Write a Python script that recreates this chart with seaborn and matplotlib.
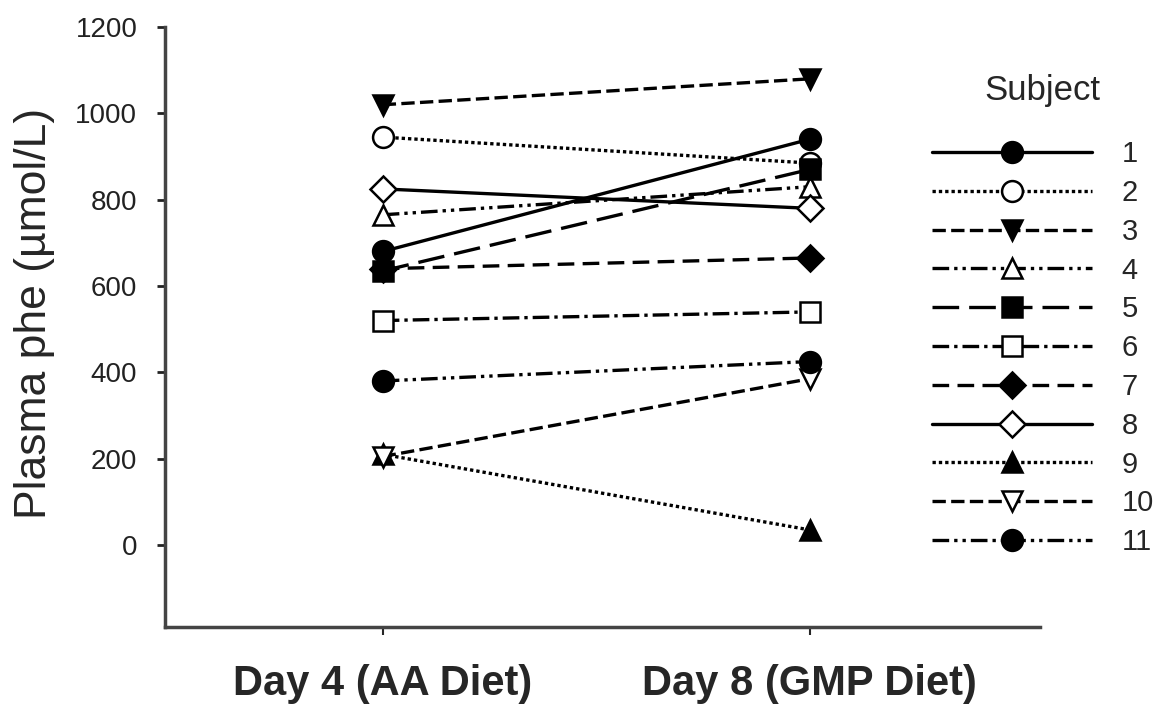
import matplotlib
matplotlib.use('Agg')
import matplotlib.pyplot as plt
import numpy as np
import pandas as pd
import seaborn as sns

days = ['Day 4 (AA Diet)', 'Day 8 (GMP Diet)']
subjects = ['1', '2', '3', '4', '5', '6', '7', '8', '9', '10', '11']
day4_phe = [680, 945, 1020, 765, 635, 520, 640, 825, 210, 205, 380]
day8_phe = [940, 885, 1080, 830, 870, 540, 665, 780, 35, 385, 425]

# marker, filled?, dash pattern
styles = {
    '1': ('o', True, '-'),
    '2': ('o', False, (0, (1, 0.9))),
    '3': ('v', True, (0, (4, 1.6))),
    '4': ('^', False, (0, (5, 1.5, 1, 1.5, 1, 1.5))),
    '5': ('s', True, (0, (8, 3))),
    '6': ('s', False, (0, (5, 1.5, 1, 1.5))),
    '7': ('D', True, (0, (5, 2.5))),
    '8': ('D', False, '-'),
    '9': ('^', True, (0, (1, 0.9))),
    '10': ('v', False, (0, (4, 1.6))),
    '11': ('o', True, (0, (5, 1.5, 1, 1.5, 1, 1.5))),
}

phe_data = pd.DataFrame({
    'subject': subjects * 2,
    'day': [days[0]] * len(subjects) + [days[1]] * len(subjects),
    'phe': day4_phe + day8_phe,
})

sns.set_style('ticks')
plt.rcParams['font.family'] = ['Liberation Sans', 'DejaVu Sans']

fig = plt.figure(figsize=(11.73, 7.12), dpi=100)
ax = fig.add_axes([0.1407, 0.1194, 0.7459, 0.8426])

for s in subjects:
    marker, filled, ls = styles[s]
    sns.lineplot(
        data=phe_data[phe_data['subject'] == s],
        x='day',
        y='phe',
        ax=ax,
        color='black',
        linewidth=2.4,
        linestyle=ls,
        marker=marker,
        markersize=13 if marker == 'D' else 15,
        markerfacecolor='black' if filled else 'white',
        markeredgecolor='black',
        markeredgewidth=1.8,
        label=s,
        sort=False,
    )

ax.set_xlim(-0.51, 1.54)
ax.set_ylim(-190, 1200)
ax.set_yticks(np.arange(0, 1201, 200))
ax.set_xlabel('')
ax.set_ylabel('Plasma phe (\u00b5mol/L)', fontsize=32)
ax.yaxis.set_label_coords(-0.126, 0.522)
ax.tick_params(axis='y', labelsize=20, length=6, width=2, pad=14, colors='#222222')
ax.tick_params(axis='x', labelsize=30, length=6, width=1.5, pad=21)
for lab in ax.get_xticklabels():
    lab.set_fontweight('bold')
sns.despine(ax=ax)
for side in ['left', 'bottom']:
    ax.spines[side].set_linewidth(2.5)
    ax.spines[side].set_color('#444444')

handles, labels = ax.get_legend_handles_labels()
leg = ax.legend(
    handles, labels,
    title='Subject',
    loc='upper left',
    bbox_to_anchor=(0.772, 0.933),
    bbox_transform=fig.transFigure,
    frameon=False,
    fontsize=21,
    title_fontsize=25,
    handlelength=5.5,
    handletextpad=1.0,
    labelspacing=0.37,
    numpoints=1,
)
leg._legend_box.align = 'center'
leg._legend_box.sep = 24

plt.savefig('out.png', dpi=100)
